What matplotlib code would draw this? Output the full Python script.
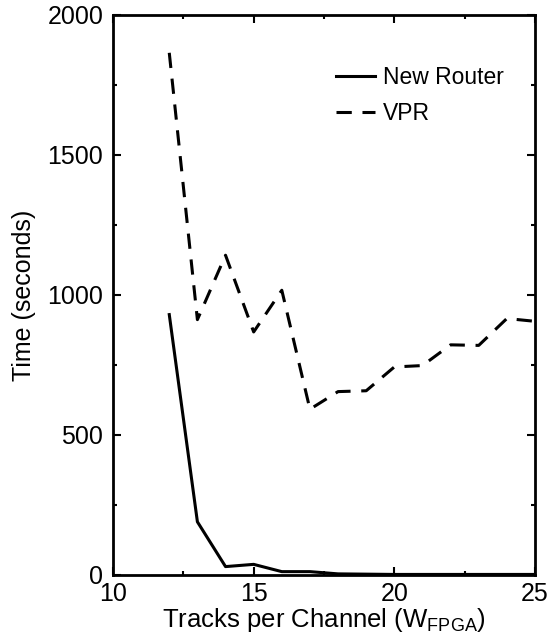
import matplotlib
matplotlib.use("Agg")
import matplotlib.pyplot as plt
from matplotlib.ticker import MultipleLocator

plt.rcParams['font.family'] = ['Liberation Sans', 'DejaVu Sans']
plt.rcParams['mathtext.fontset'] = 'custom'
plt.rcParams['mathtext.rm'] = 'Liberation Sans'
plt.rcParams['mathtext.it'] = 'Liberation Sans'

tracks_new = [12, 13, 14, 15, 16, 17, 18, 19, 20, 21, 22, 23, 24, 25]
time_new = [930, 190, 30, 38, 12, 12, 4, 3, 2, 2, 2, 2, 2, 2]

tracks_vpr = [12, 13, 14, 15, 16, 17, 18, 19, 20, 21, 22, 23, 24, 25]
time_vpr = [1865, 912, 1142, 868, 1017, 592, 655, 658, 743, 748, 822, 820, 916, 906]

fig = plt.figure(figsize=(5.5, 6.37), dpi=100)
ax = fig.add_axes([113/550, 62/637, 422/550, 560/637])

ax.plot(tracks_new, time_new, color='black', lw=2.2, label='New Router')
ax.plot(tracks_vpr, time_vpr, color='black', lw=2.2, linestyle=(0, (5, 3.5)), label='VPR')

ax.set_xlim(10, 25)
ax.set_ylim(0, 2000)
ax.xaxis.set_major_locator(MultipleLocator(5))
ax.xaxis.set_minor_locator(MultipleLocator(2.5))
ax.yaxis.set_major_locator(MultipleLocator(500))
ax.yaxis.set_minor_locator(MultipleLocator(250))
ax.tick_params(which='both', direction='in', top=True, right=True, width=1.5)
ax.tick_params(which='major', length=6, labelsize=18)
ax.tick_params(axis='y', which='major', pad=7)
ax.tick_params(axis='x', which='major', pad=5)
ax.tick_params(which='minor', length=3)
for s in ax.spines.values():
    s.set_linewidth(2.0)

ax.set_xlabel(r'Tracks per Channel (W$_{\mathrm{FPGA}}$)', fontsize=18.5, labelpad=0)
ax.set_ylabel('Time (seconds)', fontsize=18, labelpad=8)

leg = ax.legend(loc='upper right', bbox_to_anchor=(0.975, 0.945), frameon=False,
                fontsize=16.5, handlelength=1.7, handletextpad=0.35, labelspacing=0.55)

fig.savefig('out.png', dpi=100)
